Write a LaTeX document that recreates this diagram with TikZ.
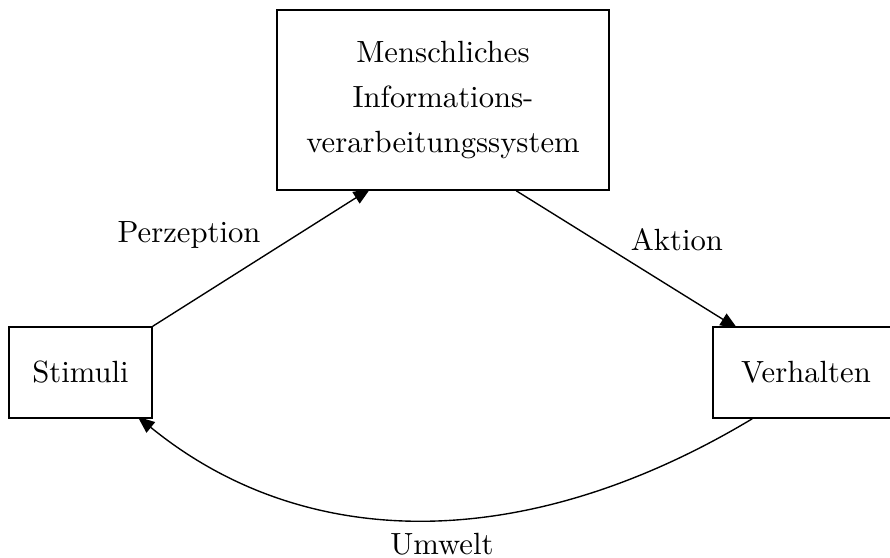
\documentclass[tikz,border=0pt]{standalone}
\usetikzlibrary{arrows.meta,calc,backgrounds}
\begin{document}
\begin{tikzpicture}[x=0.326pt,y=-0.326pt,
  box/.style={draw,line width=0.5pt,fill=white,rectangle,inner sep=0pt},
  conn/.style={line width=0.45pt,-{Triangle[length=5.5pt,width=4.4pt]}},
  lbl/.style={inner sep=0pt}]
\clip (0,0) rectangle (890,557);
\node[box,minimum width={332*0.326pt},minimum height={180*0.326pt},align=center,
  font=\fontsize{10pt}{14.6pt}\selectfont] (top) at (443,100)
  {Menschliches\\Informations-\\verarbeitungssystem};
\node[box,minimum width={143*0.326pt},minimum height={91*0.326pt}] (stim) at (80.5,372.5) {Stimuli};
\node[box,minimum width={186*0.326pt},minimum height={91*0.326pt}] (verh) at (806,372.5) {Verhalten};
\coordinate (pEnd) at ($(top.south west)+(94,-2)$);
\coordinate (aStart) at ($(top.south west)+(240,0)$);
\coordinate (aEnd) at ($(verh.north west)+(25,2)$);
\coordinate (cStart) at ($(verh.south west)+(40,0)$);
\coordinate (cEnd) at ($(stim.south east)+(-15,-2)$);
\begin{scope}[on background layer]
\draw[conn] (stim.north east) -- (pEnd);
\draw[conn] (aStart) -- (aEnd);
\draw[conn] (cStart) .. controls (527,554) and (306,554) .. (cEnd);
\end{scope}
\node[lbl] (lp) at (189,235) {Perzeption};
\node[lbl] (la) at (677,240) {Aktion};
\node[lbl] (lu) at (442,544) {Umwelt};
\end{tikzpicture}
\end{document}
